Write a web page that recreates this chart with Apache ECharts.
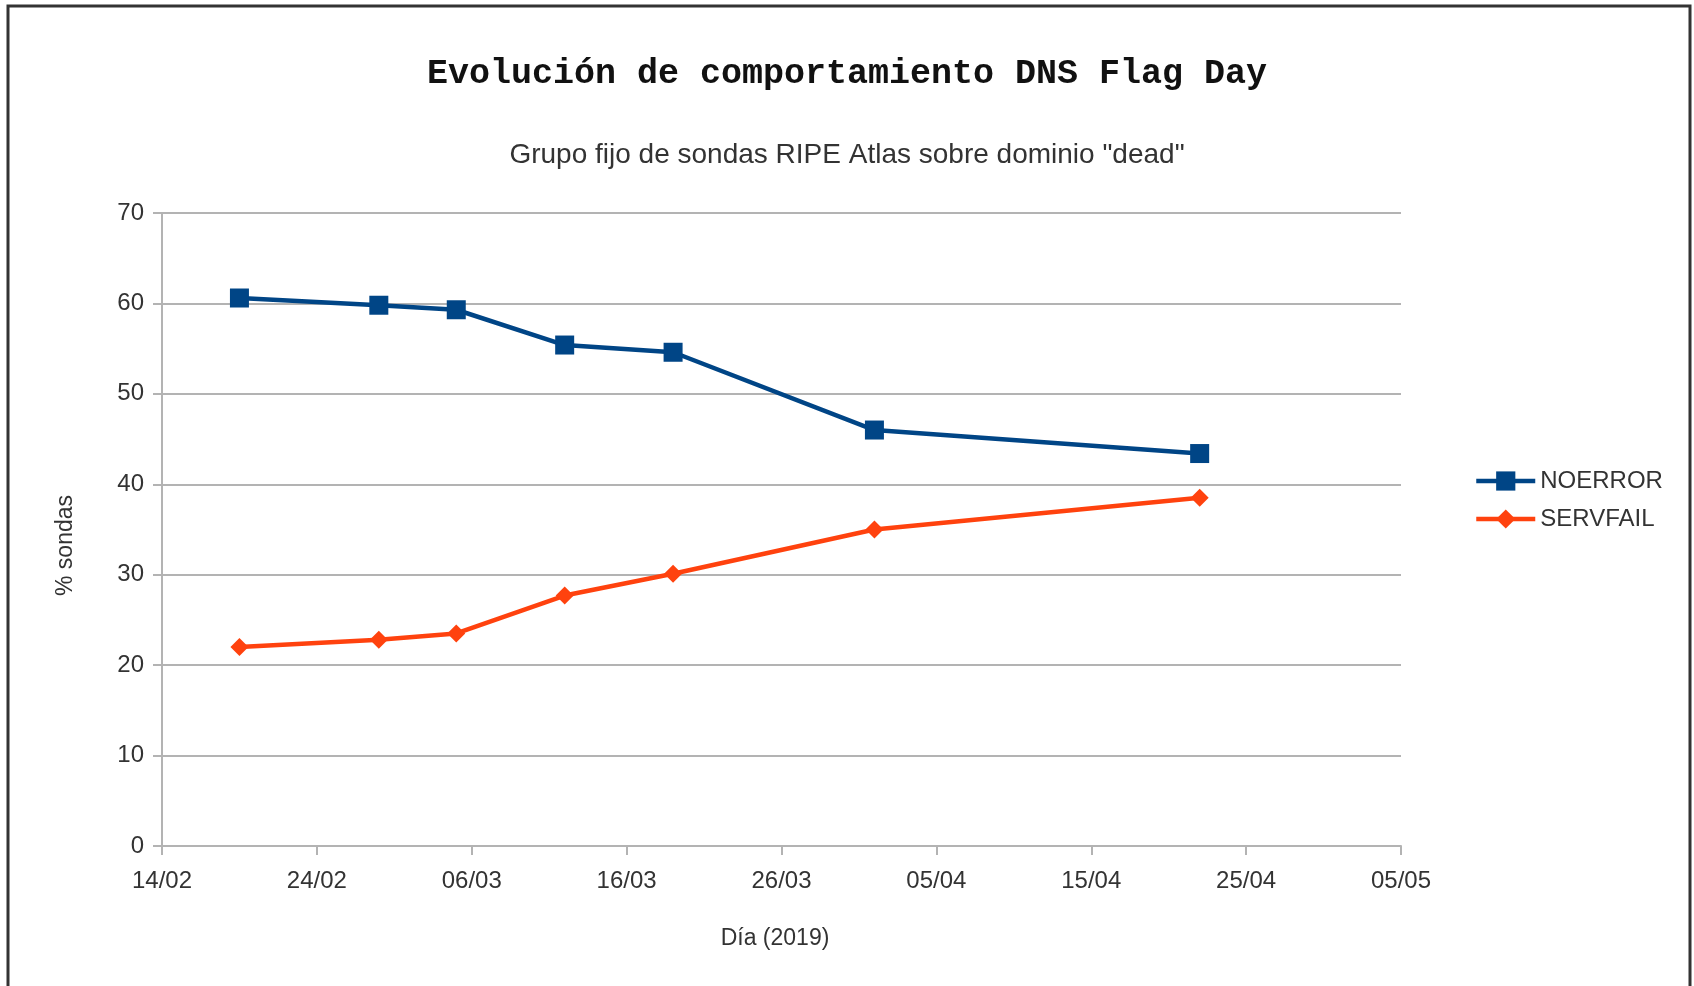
<!DOCTYPE html>
<html>
<head>
<meta charset="utf-8">
<script src="https://cdn.jsdelivr.net/npm/echarts@6/dist/echarts.min.js"></script>
<style>
  html, body { margin: 0; padding: 0; background: #fff; }
  #chart { width: 1694px; height: 986px; }
</style>
</head>
<body>
<div id="chart"></div>
<script>
// fechas de medición (2019)
const startDate = '2019-02-14';
const dates = ['2019-02-19', '2019-02-28', '2019-03-05', '2019-03-12', '2019-03-19', '2019-04-01', '2019-04-22'];
const noerror = [60.6, 59.8, 59.3, 55.4, 54.6, 46.0, 43.4];
const servfail = [22.0, 22.8, 23.5, 27.7, 30.1, 35.0, 38.5];
const seriesNames = ['NOERROR', 'SERVFAIL'];

const DAY = 86400000;
const t0 = Date.parse(startDate);
// days since 14/02, so the 10-day ticks start at the axis minimum
const dayOffset = d => Math.round((Date.parse(d) - t0) / DAY);
const fmtDay = v => {
    const d = new Date(t0 + v * DAY);
    const dd = String(d.getUTCDate()).padStart(2, '0');
    const mm = String(d.getUTCMonth() + 1).padStart(2, '0');
    return dd + '/' + mm;
};

const gridColor = '#b3b3b3';
const textColor = '#333';
const font = '"Liberation Sans", Arial, sans-serif';

const myChart = echarts.init(document.getElementById('chart'));
const option = {
    backgroundColor: '#fff',
    animation: false,
    title: [
        {
            text: 'Evolución de comportamiento DNS Flag Day',
            left: 'center',
            top: 52,
            textStyle: {
                fontFamily: '"Liberation Mono", "DejaVu Sans Mono", monospace',
                fontWeight: 'bold',
                fontSize: 35,
                color: '#111'
            }
        },
        {
            text: 'Grupo fijo de sondas RIPE Atlas sobre dominio "dead"',
            left: 'center',
            top: 136,
            textStyle: {
                fontFamily: font,
                fontWeight: 'normal',
                fontSize: 28,
                color: textColor
            }
        }
    ],
    legend: {
        orient: 'vertical',
        left: 1469,
        top: 464,
        itemWidth: 59,
        itemHeight: 24,
        itemGap: 14,
        lineStyle: { width: 4.5 },
        textStyle: { fontFamily: font, fontSize: 24, color: textColor },
        data: seriesNames
    },
    grid: {
        left: 162,
        right: 293,
        top: 213,
        bottom: 140
    },
    xAxis: {
        type: 'value',
        min: 0,
        max: 80,
        interval: 10,
        name: 'Día (2019)',
        nameLocation: 'middle',
        nameGap: 81,
        nameTextStyle: { fontFamily: font, fontSize: 23, color: textColor, padding: [0, 13, 0, 0] },
        axisLine: { lineStyle: { color: gridColor, width: 2 } },
        axisTick: { show: true, length: 9, lineStyle: { color: gridColor, width: 2 } },
        axisLabel: {
            margin: 23,
            fontFamily: font,
            fontSize: 24,
            color: textColor,
            formatter: fmtDay
        },
        splitLine: { show: false }
    },
    yAxis: {
        type: 'value',
        min: 0,
        max: 70,
        interval: 10,
        name: '% sondas',
        nameLocation: 'middle',
        nameRotate: 90,
        nameGap: 85,
        nameTextStyle: { fontFamily: font, fontSize: 23, color: textColor, padding: [0, 32, 0, 0] },
        axisLine: { show: true, lineStyle: { color: gridColor, width: 2 } },
        axisTick: { show: true, length: 9, lineStyle: { color: gridColor, width: 2 } },
        axisLabel: { margin: 18, fontFamily: font, fontSize: 24, color: textColor },
        splitLine: { lineStyle: { color: gridColor, width: 2 } }
    },
    graphic: [
        {
            // marco exterior
            type: 'rect',
            shape: { x: 8, y: 6, width: 1682, height: 990 },
            style: { fill: 'none', stroke: '#333', lineWidth: 3 },
            silent: true
        }
    ],
    series: [
        {
            name: seriesNames[0],
            type: 'line',
            data: dates.map((d, i) => [dayOffset(d), noerror[i]]),
            symbol: 'rect',
            symbolSize: 19,
            itemStyle: { color: '#004586' },
            lineStyle: { color: '#004586', width: 4.5 }
        },
        {
            name: seriesNames[1],
            type: 'line',
            data: dates.map((d, i) => [dayOffset(d), servfail[i]]),
            symbol: 'diamond',
            symbolSize: 18,
            itemStyle: { color: '#ff420e' },
            lineStyle: { color: '#ff420e', width: 4.5 }
        }
    ]
};
myChart.setOption(option);
</script>
</body>
</html>
